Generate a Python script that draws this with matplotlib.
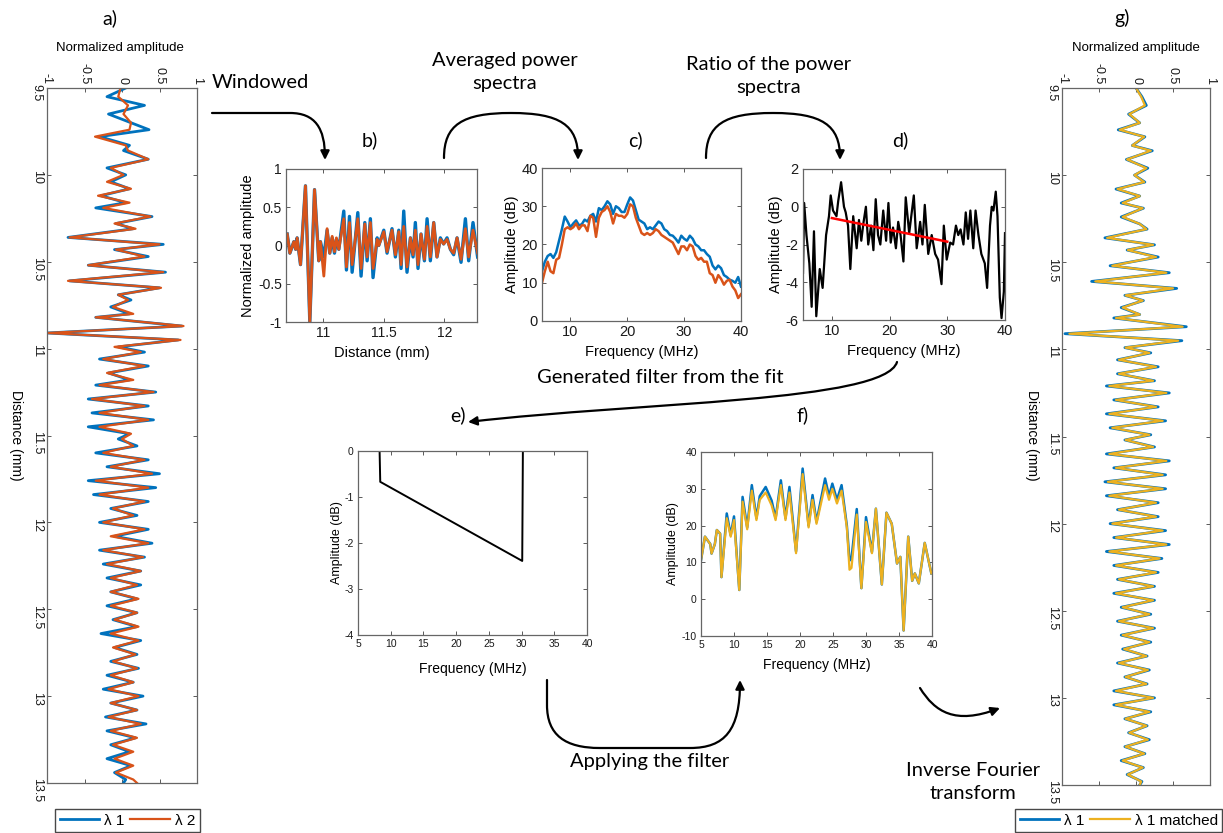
import matplotlib
matplotlib.use("Agg")
import matplotlib.pyplot as plt
from matplotlib.path import Path
from matplotlib.patches import FancyArrowPatch

# ---- data ----
# a) / g) : extrema of the A-lines, distance (mm) vs normalized amplitude
A_DIST = [9.50, 9.55, 9.60, 9.65, 9.70, 9.74, 9.78, 9.83, 9.86, 9.91,
          9.96, 10.00, 10.04, 10.08, 10.12, 10.16, 10.19, 10.24, 10.28, 10.31,
          10.36, 10.40, 10.43, 10.47, 10.52, 10.56, 10.61, 10.65, 10.69, 10.72,
          10.76, 10.80, 10.82, 10.87, 10.91, 10.95, 10.99, 11.02, 11.06, 11.10,
          11.14, 11.18, 11.21, 11.25, 11.29, 11.33, 11.37, 11.41, 11.45, 11.49,
          11.52, 11.56, 11.60, 11.64, 11.68, 11.72, 11.76, 11.80, 11.84, 11.88,
          11.92, 11.96, 12.00, 12.04, 12.08, 12.12, 12.16, 12.20, 12.24, 12.28,
          12.32, 12.36, 12.40, 12.44, 12.48, 12.52, 12.56, 12.60, 12.64, 12.68,
          12.72, 12.76, 12.80, 12.84, 12.88, 12.92, 12.96, 13.00, 13.04, 13.08,
          13.12, 13.16, 13.20, 13.24, 13.28, 13.32, 13.36, 13.40, 13.44, 13.48,
          13.50]
A_L1 = [0.05, -0.20, 0.30, -0.18, 0.12, 0.36, -0.30, 0.10, 0.02, 0.35,
        -0.20, 0.05, -0.15, 0.10, -0.28, 0.05, -0.35, 0.40, -0.08, 0.15,
        -0.72, 0.55, -0.10, 0.35, -0.45, 0.58, -0.70, 0.50, -0.05, 0.12,
        -0.15, 0.10, -0.35, 0.80, -1.00, 0.75, -0.05, 0.30, -0.30, 0.35,
        -0.18, 0.10, -0.35, 0.45, -0.45, 0.35, -0.40, 0.42, -0.45, 0.10,
        -0.05, 0.20, -0.35, 0.35, -0.20, 0.50, -0.45, 0.45, -0.38, 0.35,
        -0.15, 0.20, -0.30, 0.35, -0.10, 0.40, -0.30, 0.30, -0.25, 0.25,
        -0.20, 0.25, -0.15, 0.20, -0.20, 0.20, -0.12, 0.20, -0.28, 0.25,
        -0.10, 0.20, -0.15, 0.22, -0.20, 0.15, -0.25, 0.28, -0.15, 0.20,
        -0.22, 0.32, -0.20, 0.18, -0.15, 0.10, -0.20, 0.12, -0.10, 0.05,
        0.02]
A_L2 = [-0.02, -0.05, 0.08, 0.02, 0.12, 0.10, -0.36, 0.05, 0.08, 0.35,
        -0.15, 0.02, -0.20, 0.12, -0.32, 0.10, -0.25, 0.38, -0.10, 0.18,
        -0.70, 0.50, -0.08, 0.30, -0.45, 0.55, -0.72, 0.52, -0.05, 0.08,
        -0.12, 0.15, -0.35, 0.82, -1.00, 0.78, -0.10, 0.25, -0.25, 0.30,
        -0.20, 0.15, -0.30, 0.42, -0.40, 0.30, -0.30, 0.35, -0.30, 0.12,
        0.00, 0.15, -0.25, 0.30, -0.15, 0.40, -0.35, 0.35, -0.30, 0.30,
        -0.12, 0.15, -0.25, 0.30, -0.15, 0.35, -0.25, 0.28, -0.20, 0.25,
        -0.15, 0.20, -0.15, 0.22, -0.15, 0.20, -0.10, 0.22, -0.15, 0.22,
        -0.12, 0.18, -0.12, 0.20, -0.15, 0.15, -0.18, 0.22, -0.15, 0.20,
        -0.18, 0.25, -0.15, 0.20, -0.12, 0.15, -0.10, 0.15, -0.08, 0.15,
        0.20]
G_L1 = [0.00, 0.08, 0.14, -0.10, 0.05, -0.24, 0.12, -0.05, 0.22, -0.13,
        0.16, -0.02, 0.12, -0.27, 0.05, -0.20, 0.10, -0.20, 0.05, 0.15,
        -0.42, 0.25, -0.12, 0.30, -0.35, 0.45, -0.60, 0.55, -0.15, 0.10,
        -0.20, 0.05, -0.30, 0.68, -0.96, 0.62, -0.15, 0.20, -0.25, 0.30,
        -0.25, 0.25, -0.40, 0.45, -0.30, 0.30, -0.40, 0.40, -0.35, 0.20,
        -0.15, 0.25, -0.40, 0.45, -0.30, 0.40, -0.42, 0.40, -0.40, 0.30,
        -0.25, 0.30, -0.35, 0.40, -0.30, 0.45, -0.40, 0.35, -0.30, 0.30,
        -0.25, 0.25, -0.30, 0.25, -0.20, 0.20, -0.25, 0.25, -0.20, 0.20,
        -0.18, 0.15, -0.25, 0.18, -0.15, 0.15, -0.30, 0.25, -0.30, 0.20,
        -0.15, 0.15, -0.10, 0.18, -0.15, 0.12, -0.20, 0.10, -0.12, 0.08,
        0.05]
G_MATCHED = [0.00, 0.07, 0.12, -0.09, 0.05, -0.22, 0.11, -0.05, 0.20, -0.12,
             0.14, -0.02, 0.11, -0.25, 0.05, -0.18, 0.09, -0.18, 0.05, 0.14,
             -0.39, 0.23, -0.11, 0.27, -0.32, 0.41, -0.55, 0.50, -0.14, 0.09,
             -0.18, 0.05, -0.27, 0.63, -0.90, 0.57, -0.14, 0.18, -0.23, 0.27,
             -0.23, 0.23, -0.36, 0.41, -0.27, 0.27, -0.36, 0.36, -0.32, 0.18,
             -0.14, 0.23, -0.36, 0.41, -0.27, 0.36, -0.38, 0.36, -0.36, 0.27,
             -0.23, 0.27, -0.32, 0.36, -0.27, 0.41, -0.36, 0.32, -0.27, 0.27,
             -0.23, 0.23, -0.27, 0.23, -0.18, 0.18, -0.23, 0.23, -0.18, 0.18,
             -0.16, 0.14, -0.23, 0.16, -0.14, 0.14, -0.27, 0.23, -0.27, 0.18,
             -0.14, 0.14, -0.09, 0.16, -0.14, 0.11, -0.18, 0.09, -0.11, 0.07,
             0.05]

# b) windowed segment
B_DIST = [10.700, 10.722, 10.755, 10.770, 10.782, 10.810, 10.851, 10.887, 10.926, 10.961,
          10.975, 11.003, 11.030, 11.052, 11.072, 11.091, 11.107, 11.127, 11.168, 11.190,
          11.215, 11.237, 11.284, 11.311, 11.342, 11.361, 11.388, 11.410, 11.444, 11.457,
          11.499, 11.526, 11.567, 11.595, 11.623, 11.642, 11.664, 11.691, 11.719, 11.741,
          11.760, 11.782, 11.807, 11.835, 11.857, 11.884, 11.912, 11.939, 11.967, 11.994,
          12.022, 12.050, 12.077, 12.105, 12.138, 12.174, 12.201, 12.237, 12.275]
B_L1 = [0.15, -0.10, 0.05, -0.05, 0.10, -0.25, 0.78, -1.00, 0.73, -0.20,
        0.05, -0.15, 0.20, -0.10, 0.10, -0.10, 0.08, -0.05, 0.45, -0.32,
        0.38, -0.35, 0.43, -0.40, 0.30, -0.20, 0.35, -0.42, 0.10, 0.00,
        0.20, -0.10, 0.22, -0.15, 0.20, -0.30, 0.45, -0.35, 0.10, -0.15,
        0.30, -0.30, 0.15, -0.20, 0.35, -0.20, 0.30, -0.15, 0.10, 0.02,
        0.10, -0.05, -0.12, 0.10, -0.22, 0.35, -0.20, 0.30, -0.15]
B_L2 = [0.15, -0.10, 0.05, -0.05, 0.10, -0.25, 0.78, -1.00, 0.73, -0.20,
        0.05, -0.40, 0.22, -0.10, 0.12, -0.08, 0.10, -0.05, 0.35, -0.28,
        0.30, -0.25, 0.35, -0.30, 0.28, -0.15, 0.30, -0.30, 0.08, 0.00,
        0.18, -0.08, 0.20, -0.12, 0.18, -0.25, 0.25, -0.28, 0.10, -0.12,
        0.20, -0.25, 0.15, -0.18, 0.25, -0.15, 0.30, -0.15, 0.08, 0.02,
        0.08, -0.05, -0.10, 0.10, -0.18, 0.22, -0.15, 0.20, -0.10]

# c) averaged power spectra (dB)
C_FREQ = [5.0, 5.5, 6.0, 6.5, 7.0, 7.5, 8.0, 8.5, 9.0, 9.5,
          10.0, 10.5, 11.0, 11.5, 12.0, 12.5, 13.0, 13.5, 14.0, 14.5,
          15.0, 15.5, 16.0, 16.5, 17.0, 17.5, 18.0, 18.5, 19.0, 19.5,
          20.0, 20.5, 21.0, 21.5, 22.0, 22.5, 23.0, 23.5, 24.0, 24.5,
          25.0, 25.5, 26.0, 26.5, 27.0, 27.5, 28.0, 28.5, 29.0, 29.5,
          30.0, 30.5, 31.0, 31.5, 32.0, 32.5, 33.0, 33.5, 34.0, 34.5,
          35.0, 35.5, 36.0, 36.5, 37.0, 37.5, 38.0, 38.5, 39.0, 39.5,
          40.0]
C_L1 = [13, 15.5, 17, 17.5, 16.5, 18, 21, 24, 27.3, 26,
        24.5, 25.5, 26.3, 25, 25.3, 26.5, 26, 27.5, 28, 26,
        29.5, 29, 30, 31.3, 30.5, 28, 30, 29.5, 28.5, 28.5,
        30.5, 32.3, 31.5, 29, 26.5, 26, 25.5, 24, 24.5, 24,
        25, 26, 25.5, 24, 23.5, 22.5, 22.3, 21.5, 20.5, 22.3,
        21.5, 21, 22.3, 21.5, 20, 19.5, 18.5, 18.5, 17.5, 16.8,
        14.5, 13.5, 14.5, 13.8, 12, 11.5, 10.8, 10.5, 10, 11.5,
        9]
C_L2 = [10, 13, 15.5, 13, 12.5, 16, 16.5, 20, 24, 24.5,
        24, 24.5, 25.5, 24, 25, 25, 23.5, 27.5, 27, 22,
        27, 28.5, 29, 30, 28.5, 25.5, 28, 27.5, 27.5, 27,
        28, 30.5, 30, 27, 25, 23, 22.5, 23, 22.5, 23,
        24, 23.5, 22.5, 22, 21.5, 21, 20.5, 19, 17.5, 19.5,
        19.5, 18.5, 20, 19.5, 17, 16, 16.5, 15.5, 15.5, 12.5,
        12, 10, 12, 11, 9.5, 10.5, 10.8, 9, 8, 6,
        7]

# d) ratio of the power spectra and its linear fit
D_FREQ = [5.0, 5.2, 5.6, 6.1, 6.5, 6.9, 7.3, 7.9, 8.4, 9.0,
          9.5, 9.8, 10.2, 10.8, 11.1, 11.6, 12.1, 12.4, 12.8, 13.2,
          13.7, 14.3, 14.7, 15.1, 15.5, 15.9, 16.3, 16.8, 17.2, 17.6,
          18.0, 18.4, 18.9, 19.4, 19.8, 20.2, 20.6, 21.1, 21.5, 21.9,
          22.4, 22.8, 23.4, 23.8, 24.2, 24.7, 25.3, 25.7, 26.1, 26.7,
          27.3, 27.9, 28.4, 29.0, 29.4, 29.9, 30.5, 31.0, 31.5, 31.9,
          32.3, 32.8, 33.2, 33.6, 34.0, 34.5, 34.9, 35.4, 35.9, 36.5,
          36.9, 37.4, 37.7, 38.0, 38.4, 38.7, 39.1, 39.4, 39.8, 40.0]
D_RATIO = [-3.5, 0.2, -1.5, -3.0, -5.3, -1.3, -5.8, -3.3, -4.3, -1.5,
           -0.5, 0.6, -0.2, -0.5, 0.3, 1.3, 0.0, -0.3, -1.0, -3.3,
           -0.5, -2.2, -0.7, -1.8, -0.8, 0.0, -2.0, -1.0, -2.3, 0.4,
           -1.5, -2.0, -0.2, -1.8, 0.2, -1.9, -1.1, -2.2, -0.8, -1.5,
           -2.9, 0.5, -1.4, -0.4, 0.6, -2.2, -0.8, -2.0, 0.1, -2.5,
           -1.5, -2.5, -2.8, -4.1, -1.0, -2.8, -1.9, -2.0, -1.0, -1.5,
           -1.2, -2.0, -0.3, -1.7, -0.2, -2.2, -0.2, -1.5, -2.5, -3.0,
           -4.3, -1.0, 0.0, -0.2, 0.8, -0.5, -4.8, -5.9, -4.5, -1.4]
D_FIT_FREQ = [10, 30]
D_FIT = [-0.6, -1.85]

# e) generated filter
E_FREQ = [5, 8.3, 8.4, 30.1, 30.2, 40]
E_GAIN = [0, 0, -0.67, -2.39, 0, 0]

# f) spectrum before / after applying the filter
F_FREQ = [5.0, 5.6, 6.4, 6.6, 7.1, 7.4, 7.9, 8.1, 8.9, 9.5,
          10.0, 10.8, 11.3, 12.0, 12.7, 13.4, 13.9, 14.8, 15.7, 16.3,
          17.1, 17.8, 18.4, 19.4, 20.4, 21.3, 21.9, 22.5, 23.8, 24.4,
          24.9, 25.6, 26.3, 27.1, 27.5, 27.8, 28.6, 29.3, 30.0, 30.9,
          31.5, 32.4, 33.1, 33.9, 34.7, 35.2, 35.7, 36.4, 37.0, 37.4,
          38.0, 38.9, 39.9]
F_L1 = [10.6, 17.0, 15.0, 12.4, 15.0, 18.8, 17.8, 6.0, 23.3, 17.4,
        22.5, 2.5, 27.8, 19.5, 31.0, 22.0, 28.0, 30.5, 26.8, 22.0,
        32.3, 22.0, 30.5, 13.0, 35.5, 20.0, 28.3, 21.0, 32.8, 28.0,
        31.4, 27.0, 31.0, 20.0, 10.5, 11.0, 24.5, 3.0, 22.3, 12.8,
        24.6, 4.0, 23.5, 20.5, 9.7, 11.5, -8.5, 17.0, 5.0, 7.0,
        4.3, 15.3, 7.0]
F_MATCHED = [10.6, 17.0, 15.0, 12.4, 15.0, 18.8, 17.8, 6.0, 22.0, 17.0,
             21.5, 2.5, 26.5, 19.0, 29.5, 21.5, 27.0, 29.0, 25.5, 21.5,
             31.0, 21.5, 29.0, 12.5, 34.0, 19.5, 27.0, 20.5, 31.0, 27.0,
             30.0, 26.0, 29.5, 19.5, 8.0, 8.5, 23.0, 3.0, 21.0, 12.5,
             24.6, 4.0, 23.5, 20.5, 9.7, 11.5, -8.5, 17.0, 5.0, 7.0,
             4.3, 15.3, 7.0]

BLUE = "#0072BD"
ORANGE = "#D95319"
YELLOW = "#EDB120"
TXT = "Lato"
plt.rcParams["font.family"] = ["Liberation Sans", "DejaVu Sans"]
plt.rcParams["axes.unicode_minus"] = False

W, H = 1223, 833
fig = plt.figure(figsize=(W / 100, H / 100), dpi=100)


def fx(x):
    return x / W


def fy(y):
    return 1 - y / H


def add_ax(x0, y0, x1, y1):
    return fig.add_axes([fx(x0), fy(y1), (x1 - x0) / W, (y1 - y0) / H])


def matlab_style(ax, fs):
    ax.tick_params(direction="in", length=3, width=0.7, top=True, right=True,
                   labelsize=fs, color="0.35", labelcolor="0.1", pad=3)
    for s in ax.spines.values():
        s.set_color("0.4")
        s.set_linewidth(0.9)


def trace_panel(ax, l1, l2, c2):
    ax.plot(l1, A_DIST, color=BLUE, lw=2.0)
    ax.plot(l2, A_DIST, color=c2, lw=1.6)
    ax.set_xlim(-1, 1)
    ax.set_ylim(13.5, 9.5)
    ax.set_xticks([-1, -0.5, 0, 0.5, 1])
    ax.set_xticklabels(["-1", "-0.5", "0", "0.5", "1"])
    ax.set_yticks([9.5, 10, 10.5, 11, 11.5, 12, 12.5, 13, 13.5])
    ax.set_yticklabels(["9.5", "10", "10.5", "11", "11.5", "12", "12.5", "13", "13.5"])
    matlab_style(ax, 9)
    ax.tick_params(axis="x", labeltop=True, labelbottom=False, labelrotation=-90)
    ax.tick_params(axis="y", labelrotation=-90)


# a)
ax_a = add_ax(47, 88, 197, 783)
trace_panel(ax_a, A_L1, A_L2, ORANGE)
fig.text(fx(120), fy(48), "Normalized amplitude", ha="center", va="center", fontsize=9.5)
fig.text(fx(16), fy(435), "Distance (mm)", ha="center", va="center", fontsize=10, rotation=-90)
fig.legend(ax_a.lines, ["λ 1", "λ 2"], loc="upper left", ncol=2,
           bbox_to_anchor=(fx(55), fy(809)), frameon=True, fancybox=False,
           edgecolor="0.1", fontsize=11, handlelength=2.6, handletextpad=0.3,
           columnspacing=0.4, borderpad=0.3, borderaxespad=0)

# g)
ax_g = add_ax(1062, 88, 1210, 785)
trace_panel(ax_g, G_L1, G_MATCHED, YELLOW)
fig.text(fx(1136), fy(48), "Normalized amplitude", ha="center", va="center", fontsize=9.5)
fig.text(fx(1032), fy(435), "Distance (mm)", ha="center", va="center", fontsize=10, rotation=-90)
fig.legend(ax_g.lines, ["λ 1", "λ 1 matched"], loc="upper left", ncol=2,
           bbox_to_anchor=(fx(1015), fy(809)), frameon=True, fancybox=False,
           edgecolor="0.1", fontsize=11, handlelength=2.6, handletextpad=0.3,
           columnspacing=0.4, borderpad=0.3, borderaxespad=0)

# b)
ax_b = add_ax(286, 169, 477, 322)
ax_b.plot(B_DIST, B_L1, color=BLUE, lw=2.4)
ax_b.plot(B_DIST, B_L2, color=ORANGE, lw=2.0)
ax_b.set_xlim(10.69, 12.27)
ax_b.set_ylim(-1, 1)
ax_b.set_xticks([11, 11.5, 12])
ax_b.set_xticklabels(["11", "11.5", "12"])
ax_b.set_yticks([-1, -0.5, 0, 0.5, 1])
ax_b.set_yticklabels(["-1", "-0.5", "0", "0.5", "1"])
matlab_style(ax_b, 10)
ax_b.set_xlabel("Distance (mm)", fontsize=10.5, labelpad=4)
ax_b.set_ylabel("Normalized amplitude", fontsize=10.5, labelpad=2)

# c)
ax_c = add_ax(542, 168, 741, 321)
ax_c.plot(C_FREQ, C_L1, color=BLUE, lw=1.8)
ax_c.plot(C_FREQ, C_L2, color=ORANGE, lw=1.8)
ax_c.set_xlim(5, 40)
ax_c.set_ylim(0, 40)
ax_c.set_xticks([10, 20, 30, 40])
ax_c.set_yticks([0, 10, 20, 30, 40])
matlab_style(ax_c, 10.5)
ax_c.set_xlabel("Frequency (MHz)", fontsize=10.5, labelpad=4)
ax_c.set_ylabel("Amplitude (dB)", fontsize=10.5, labelpad=2)

# d)
ax_d = add_ax(803, 169, 1005, 320)
ax_d.plot(D_FREQ, D_RATIO, color="k", lw=1.6)
ax_d.plot(D_FIT_FREQ, D_FIT, color="#FF0000", lw=1.8)
ax_d.set_xlim(5, 40)
ax_d.set_ylim(-6, 2)
ax_d.set_xticks([10, 20, 30, 40])
ax_d.set_yticks([-6, -4, -2, 0, 2])
matlab_style(ax_d, 10.5)
ax_d.set_xlabel("Frequency (MHz)", fontsize=10.5, labelpad=4)
ax_d.set_ylabel("Amplitude (dB)", fontsize=10.5, labelpad=2)

# e)
ax_e = add_ax(358, 451, 587, 635)
ax_e.plot(E_FREQ, E_GAIN, color="k", lw=1.4)
ax_e.set_xlim(5, 40)
ax_e.set_ylim(-4, 0)
ax_e.set_xticks([5, 10, 15, 20, 25, 30, 35, 40])
ax_e.set_yticks([-4, -3, -2, -1, 0])
matlab_style(ax_e, 7.5)
ax_e.set_xlabel("Frequency (MHz)", fontsize=10, labelpad=9)
ax_e.set_ylabel("Amplitude (dB)", fontsize=9, labelpad=1)

# f)
ax_f = add_ax(701, 452, 932, 636)
ax_f.plot(F_FREQ, F_L1, color=BLUE, lw=1.8)
ax_f.plot(F_FREQ, F_MATCHED, color=YELLOW, lw=1.6)
ax_f.set_xlim(5, 40)
ax_f.set_ylim(-10, 40)
ax_f.set_xticks([5, 10, 15, 20, 25, 30, 35, 40])
ax_f.set_yticks([-10, 0, 10, 20, 30, 40])
matlab_style(ax_f, 7.5)
ax_f.set_xlabel("Frequency (MHz)", fontsize=10, labelpad=6)
ax_f.set_ylabel("Amplitude (dB)", fontsize=9, labelpad=2)

# ---- annotations ----
labels = [(110, 18, "a)"), (370, 140, "b)"), (635, 140, "c)"), (900, 140, "d)"),
          (458, 415, "e)"), (803, 415, "f)"), (1122, 18, "g)")]
for x, y, s in labels:
    fig.text(fx(x), fy(y), s, ha="center", va="center", fontsize=14, family=TXT)

notes = [(212, 83, "Windowed", "left"),
         (505, 72, "Averaged power\nspectra", "center"),
         (769, 76, "Ratio of the power\nspectra", "center"),
         (537, 378, "Generated filter from the fit", "left"),
         (650, 762, "Applying the filter", "center"),
         (973, 782, "Inverse Fourier\ntransform", "center")]
for x, y, s, ha in notes:
    fig.text(fx(x), fy(y), s, ha=ha, va="center", fontsize=14.5, family=TXT,
             linespacing=1.45, multialignment="center")

M, L, C = Path.MOVETO, Path.LINETO, Path.CURVE4
arrows = [
    ([(212, 113), (290, 113), (315, 113), (325, 128), (325, 160)], [M, L, C, C, C]),
    ([(444, 158), (444, 125), (462, 113), (511, 113), (560, 113), (578, 125), (578, 160)],
     [M, C, C, C, C, C, C]),
    ([(706, 158), (706, 125), (724, 113), (773, 113), (822, 113), (840, 125), (840, 160)],
     [M, C, C, C, C, C, C]),
    ([(897, 362), (885, 402), (640, 402), (468, 422)], [M, C, C, C]),
    ([(547, 680), (547, 705), (547, 735), (565, 748), (600, 748), (690, 748), (725, 748),
      (740, 730), (740, 680)], [M, L, C, C, C, L, C, C, C]),
    ([(920, 688), (935, 712), (955, 725), (1000, 708)], [M, C, C, C]),
]
for verts, codes in arrows:
    p = Path([(fx(x), fy(y)) for x, y in verts], codes)
    fig.add_artist(FancyArrowPatch(path=p, arrowstyle="-|>", mutation_scale=13,
                                   lw=1.6, color="k", transform=fig.transFigure))

fig.savefig("out.png", dpi=100)
